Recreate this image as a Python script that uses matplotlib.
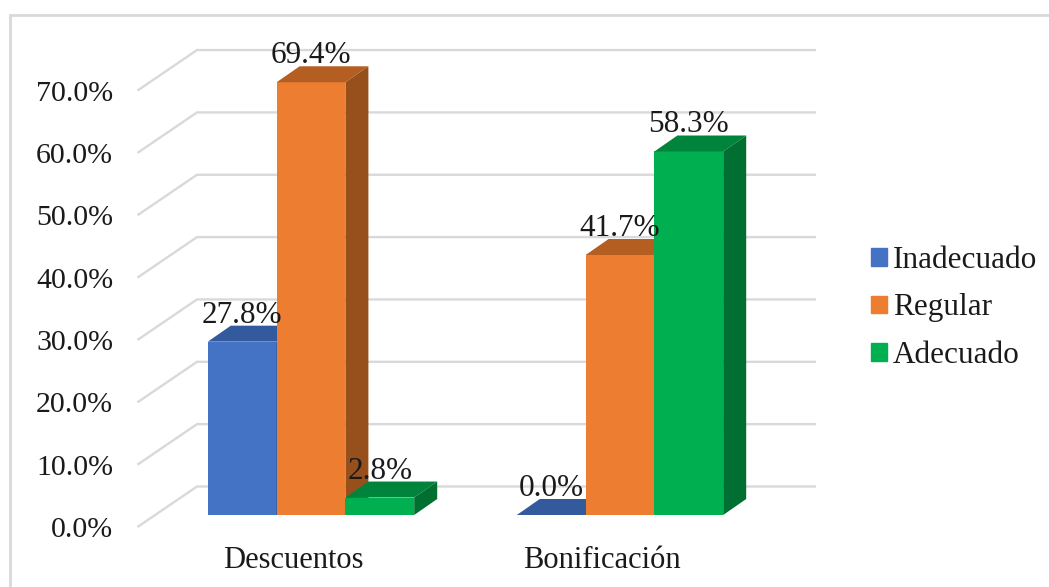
import matplotlib
matplotlib.use('Agg')
import matplotlib.pyplot as plt
from matplotlib.patches import Rectangle

plt.rcParams['font.family'] = ['Liberation Serif', 'DejaVu Serif']

# Data
categories = ['Descuentos', 'Bonificación']
series_names = ['Inadecuado', 'Regular', 'Adecuado']
inadecuado = [27.8, 0.0]
regular = [69.4, 41.7]
adecuado = [2.8, 58.3]
y_ticks = [0, 10, 20, 30, 40, 50, 60, 70]

front_colors = ['#4472C4', '#ED7D31', '#00B050']
top_colors = ['#335A9C', '#B55E22', '#00843C']
side_colors = ['#2A4A80', '#974F1C', '#006F31']

W, H = 1049, 587
fig = plt.figure(figsize=(W / 100, H / 100), dpi=100)

# Plot area in pixels
left, right = 137.5, 816
top = 50
ax = fig.add_axes([left / W, 1 - 527 / H, (right - left) / W, (527 - top) / H])

px_per_unit = 6.235
px_per_cat = 309
floor_drop = 12 / px_per_unit  # front floor edge sits below the bar bases
depth_x = 23 / px_per_cat
depth_y = 16 / px_per_unit
back_x = 59.5 / px_per_cat
back_y = 40.5 / px_per_unit

x_first = 311
ax.set_xlim((left - x_first) / px_per_cat, (right - x_first) / px_per_cat)
ax.set_ylim(-floor_drop, (527 - top) / px_per_unit - floor_drop)
for s in ax.spines.values():
    s.set_visible(False)

# Back wall and side wall gridlines
x_left, x_right = ax.get_xlim()
for v in y_ticks:
    yf = v - floor_drop
    ax.plot([x_left, x_left + back_x, x_right], [yf, yf + back_y, yf + back_y],
            color='#D9D9D9', lw=1.7, zorder=1, clip_on=False, solid_capstyle='butt')


def draw_bar(x0, w, value, idx):
    ax.bar(x0, value, width=w, align='edge', color=front_colors[idx], zorder=3,
           edgecolor='none')
    ax.fill([x0, x0 + depth_x, x0 + w + depth_x, x0 + w],
            [value, value + depth_y, value + depth_y, value],
            color=top_colors[idx], lw=0, zorder=3)
    if value > 0:
        ax.fill([x0 + w, x0 + w + depth_x, x0 + w + depth_x, x0 + w],
                [0, depth_y, value + depth_y, value],
                color=side_colors[idx], lw=0, zorder=3)


# Bars, left to right so later ones cover earlier side faces
bar_w = 68.8 / px_per_cat
values = [inadecuado, regular, adecuado]
for c in range(len(categories)):
    for i in range(len(series_names)):
        x0 = c + (i - 1.5) * bar_w
        draw_bar(x0, bar_w, values[i][c], i)
        ax.text(x0 + bar_w / 2, values[i][c] + 19 / px_per_unit,
                f'{values[i][c]:.1f}%', ha='center', va='baseline',
                fontsize=22.5, color='#1a1a1a', zorder=5)

# Category labels are centred on the floor, not on the front of the bars
ax.set_xticks([c - 18 / px_per_cat for c in range(len(categories))])
ax.set_xticklabels(categories, fontsize=22, color='#1a1a1a')
ax.set_yticks([v - floor_drop for v in y_ticks])
ax.set_yticklabels([f'{v:.1f}%' for v in y_ticks], fontsize=21.5, color='#1a1a1a')
ax.tick_params(axis='both', length=0)
ax.tick_params(axis='x', pad=14)
ax.tick_params(axis='y', pad=17.5)

handles = [Rectangle((0, 0), 1, 1, color=c) for c in front_colors]
fig.legend(handles, series_names, loc='center left',
           bbox_to_anchor=(871 / W, 1 - 308 / H), frameon=False, fontsize=22.5,
           handlelength=0.5, handleheight=0.5, handletextpad=0.2,
           labelspacing=0.59, borderpad=0, borderaxespad=0, labelcolor='#1a1a1a')

# Chart frame, open towards the right and bottom edges
fig.add_artist(Rectangle((9.5 / W, -0.05), 1200 / W, 1 - 14.5 / H + 0.05,
                         transform=fig.transFigure, fill=False,
                         edgecolor='#D9D9D9', lw=2.0))

fig.savefig('out.png', dpi=100)
